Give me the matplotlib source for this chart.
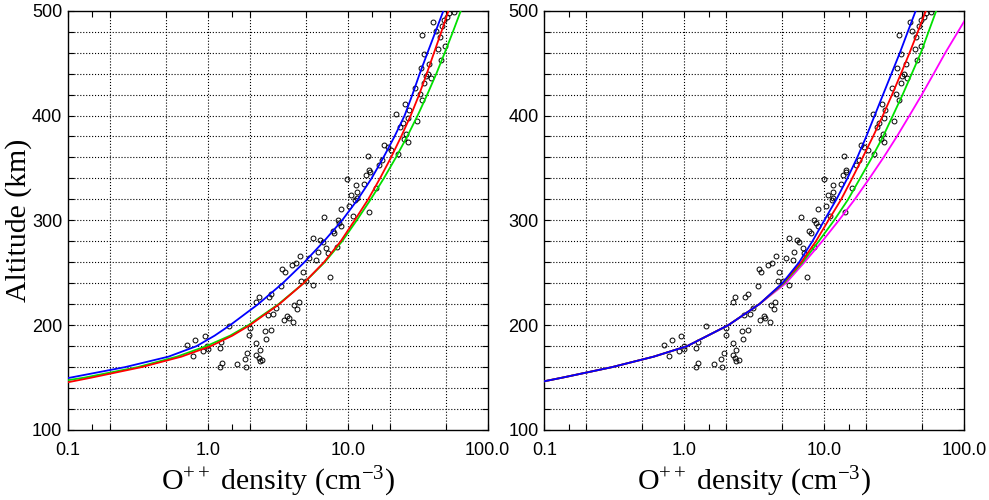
import matplotlib
matplotlib.use('Agg')
import matplotlib.pyplot as plt

plt.rcParams['font.family'] = ['Liberation Sans', 'DejaVu Sans']
plt.rcParams['mathtext.fontset'] = 'custom'
plt.rcParams['mathtext.rm'] = 'Liberation Serif'
plt.rcParams['mathtext.it'] = 'Liberation Serif:italic'

# observed O++ densities (cm^-3) and altitudes (km)
obs_n = [0.71, 0.81, 0.78, 0.92, 0.95, 0.99, 1.0, 1.22, 1.22, 1.26,
         1.25, 1.42, 1.62, 1.87, 1.84, 1.91, 1.97, 2.0, 2.22, 2.22,
         2.32, 2.35, 2.35, 2.44, 2.22, 2.32, 2.58, 2.62, 2.68, 2.72,
         2.84, 2.84, 2.95, 3.08, 3.35, 3.40, 3.48, 3.54, 3.68, 3.78,
         3.97, 4.06, 4.15, 4.24, 4.36, 4.48, 4.53, 4.65, 4.78, 5.05,
         5.33, 5.63, 5.95, 5.63, 6.11, 6.35, 6.64, 6.82, 7.01, 7.20,
         7.52, 7.82, 8.04, 8.40, 8.49, 8.73, 8.96, 8.96, 9.89, 10.3,
         10.6, 11.0, 11.3, 11.5, 11.6, 11.6, 13.1, 13.5, 13.9, 14.1,
         14.3, 14.4, 15.9, 16.8, 17.6, 18.2, 19.3, 20.4, 22.1, 22.7,
         23.7, 24.7, 25.3, 25.8, 26.1, 26.8, 26.8, 27.2, 30.3, 31.5,
         32.7, 33.3, 34.2, 33.9, 35.2, 35.2, 36.1, 37.2, 38.2, 39.3,
         41.0, 42.6, 44.3, 45.5, 46.2, 47.5, 48.9, 49.4, 51.6, 53.0,
         57.5]
obs_alt = [181, 186, 171, 175, 190, 180, 177, 178, 160, 164,
           184, 199, 163, 160, 168, 173, 191, 197, 183, 172,
           169, 176, 166, 167, 222, 227, 194, 187, 210, 227,
           230, 195, 211, 216, 237, 254, 205, 251, 209, 207,
           257, 203, 219, 259, 215, 222, 266, 242, 251, 242,
           264, 238, 262, 283, 270, 281, 279, 303, 274, 269,
           246, 290, 288, 275, 300, 297, 311, 295, 339, 314,
           324, 304, 319, 334, 327, 321, 335, 343, 361, 308,
           348, 346, 331, 353, 358, 372, 370, 367, 401, 363,
           389, 393, 378, 411, 382, 375, 398, 405, 426, 395,
           421, 445, 477, 415, 459, 431, 438, 440, 449, 436,
           489, 481, 463, 475, 453, 485, 491, 466, 494, 498,
           499]

# left panel model profiles
left_blue_alt = [149.5, 160, 170, 180, 190, 200, 220, 240, 260, 280, 300,
                 320, 340, 360, 380, 400, 420, 440, 460, 480, 500]
left_blue_n = [0.1, 0.257, 0.525, 0.832, 1.12, 1.445, 2.29, 3.43, 4.9, 6.76, 9.12,
               11.8, 14.8, 18.0, 21.6, 25.5, 29.0, 32.7, 37.2, 42.4, 48.3]
left_red_alt = [145.5, 150, 160, 170, 180, 190, 200, 220, 240, 260, 280, 300,
                320, 340, 360, 380, 400, 420, 440, 460, 480, 500]
left_red_n = [0.1, 0.148, 0.337, 0.65, 1.05, 1.50, 2.0, 3.24, 4.84, 6.76, 8.91, 11.2,
              14.0, 17.0, 20.4, 24.1, 28.2, 32.4, 36.7, 41.4, 46.7, 52.5]
left_green_alt = [147.5, 150, 160, 170, 180, 190, 200, 220, 240, 260, 280, 300,
                  320, 340, 360, 380, 400, 420, 440, 460, 480, 500]
left_green_n = [0.1, 0.132, 0.316, 0.603, 0.977, 1.445, 1.95, 3.2, 4.84, 6.84, 9.12, 11.6,
                14.6, 18.1, 22.1, 26.6, 31.6, 37.0, 43.0, 49.4, 56.5, 64.3]

# right panel model profiles
right_alt = [146.5, 150, 160, 170, 180, 190, 200, 220, 240, 260, 280, 300,
             320, 340, 360, 380, 400, 420, 440, 460, 480, 500]
right_blue_n = [0.1, 0.135, 0.305, 0.605, 1.047, 1.47, 2.06, 3.43, 5.01, 6.61, 8.22, 10.0,
                12.2, 14.6, 17.2, 19.95, 22.9, 26.3, 30.2, 34.7, 39.5, 45.0]
right_red_n = [0.1, 0.135, 0.305, 0.605, 1.047, 1.47, 2.06, 3.43, 5.05, 6.84, 8.71, 10.7,
               13.2, 15.8, 18.8, 22.3, 26.2, 30.5, 35.3, 40.7, 46.6, 53.2]
right_green_n = [0.1, 0.135, 0.305, 0.605, 1.047, 1.47, 2.06, 3.43, 5.13, 7.0, 9.12, 11.75,
                 14.8, 18.0, 21.9, 26.3, 30.9, 36.3, 42.2, 49.0, 55.6, 63.1]
right_mag_alt = [146.5, 150, 160, 170, 180, 190, 200, 220, 240, 260, 280, 300,
                 320, 340, 360, 380, 400, 420, 440, 460, 480, 490]
right_mag_n = [0.1, 0.135, 0.305, 0.605, 1.047, 1.47, 2.06, 3.43, 5.31, 7.21, 9.66, 12.7,
               16.5, 21.0, 26.5, 33.0, 40.6, 49.8, 60.5, 73.3, 90.2, 100.0]

x_major = [0.1, 1.0, 10.0, 100.0]
x_labels = ['0.1', '1.0', '10.0', '100.0']
x_minor = [0.15, 0.2, 0.5, 1.5, 2, 5, 15, 20, 50]
x_grid = [0.2, 0.5, 1, 2, 5, 10, 20, 50]
y_major = [100, 200, 300, 400, 500]
y_minor = list(range(120, 500, 20))


def style_axes(ax):
    ax.set_xscale('log')
    ax.set_xlim(0.1, 100)
    ax.set_ylim(100, 500)
    for xv in x_grid:
        ax.axvline(xv, color='black', ls=':', lw=0.8, zorder=1)
    for yv in y_minor:
        ax.axhline(yv, color='black', ls=':', lw=0.8, zorder=1)
    ax.set_xticks(x_major)
    ax.set_xticklabels(x_labels)
    ax.set_xticks(x_minor, minor=True)
    ax.set_xticklabels([], minor=True)
    ax.set_yticks(y_major)
    ax.set_yticks(y_minor, minor=True)
    ax.tick_params(which='both', direction='in', top=True, right=True,
                   length=4, width=0.8, labelsize=13)
    ax.tick_params(axis='x', pad=8.5)
    ax.tick_params(axis='y', pad=4)
    for sp in ax.spines.values():
        sp.set_linewidth(1.0)
    ax.set_xlabel(r'O$^{++}$ density (cm$^{-3}$)', fontsize=21.5,
                  fontfamily='Liberation Serif')
    ax.xaxis.set_label_coords(0.5, -0.084)


fig = plt.figure(figsize=(9.89, 5.0), dpi=100)
ax1 = fig.add_axes([0.0685, 0.14, 0.4246, 0.8386])
ax2 = fig.add_axes([0.5504, 0.14, 0.4246, 0.8386])

style_axes(ax1)
ax1.plot(obs_n, obs_alt, 'o', ms=3.5, mfc='none', mec='black', mew=0.7, zorder=3)
ax1.plot(left_green_n, left_green_alt, color='#00e000', lw=1.3, zorder=4)
ax1.plot(left_red_n, left_red_alt, color='red', lw=1.3, zorder=5)
ax1.plot(left_blue_n, left_blue_alt, color='blue', lw=1.3, zorder=6)
ax1.set_ylabel('Altitude (km)', fontsize=21.5, fontfamily='Liberation Serif')
ax1.yaxis.set_label_coords(-0.086, 0.5)

style_axes(ax2)
ax2.plot(obs_n, obs_alt, 'o', ms=3.5, mfc='none', mec='black', mew=0.7, zorder=3)
ax2.plot(right_mag_n, right_mag_alt, color='magenta', lw=1.3, zorder=4)
ax2.plot(right_green_n, right_alt, color='#00e000', lw=1.3, zorder=5)
ax2.plot(right_red_n, right_alt, color='red', lw=1.3, zorder=6)
ax2.plot(right_blue_n, right_alt, color='blue', lw=1.3, zorder=7)

fig.savefig('out.png', dpi=100)
